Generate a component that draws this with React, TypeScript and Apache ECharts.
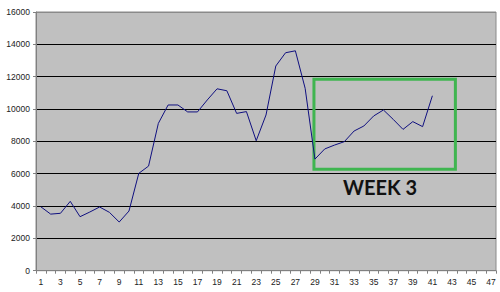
import React, { useEffect, useRef } from "react";
import * as echarts from "echarts";

const categories: string[] = Array.from({ length: 47 }, (_, i) => String(i + 1));
const values: number[] = [
  3950, 3500, 3550, 4290, 3340, 3630, 3940, 3610, 3010, 3690,
  6020, 6470, 9110, 10250, 10250, 9820, 9820, 10560, 11250, 11130,
  9730, 9840, 8040, 9630, 12660, 13480, 13600, 11280, 6900, 7530,
  7770, 7980, 8640, 8950, 9570, 9940, 9360, 8740, 9220, 8910,
  10820,
];
const yTicks = { min: 0, max: 16000, interval: 2000 };
const boxRange = { x0: 28.9, x1: 43.35, y0: 6270, y1: 11840 };
const boxLabel = "WEEK 3";

export default function App() {
  const ref = useRef<HTMLDivElement>(null);
  useEffect(() => {
    if (!ref.current) return;
    const chart = echarts.init(ref.current, null, { renderer: "svg" });
    const grid = { left: 36, top: 12, right: 4, bottom: 21.3 };
    chart.setOption({
      animation: false,
      backgroundColor: "#ffffff",
      grid: {
        ...grid,
        show: true,
        backgroundColor: "#c0c0c0",
        borderColor: "#8a8a8a",
        borderWidth: 1,
      },
      xAxis: [
        {
          type: "category",
          data: categories,
          boundaryGap: true,
          axisLine: { lineStyle: { color: "#808080", width: 1 } },
          axisTick: { show: true, interval: 0, length: 3, lineStyle: { color: "#808080" } },
          axisLabel: {
            interval: 1,
            margin: 7,
            fontSize: 8.5,
            color: "#222",
            fontFamily: "Liberation Sans, Arial, sans-serif",
          },
          splitLine: { show: false },
        },
        {
          type: "value",
          min: 0.5,
          max: 47.5,
          show: false,
          splitLine: { show: false },
        },
      ],
      yAxis: {
        type: "value",
        min: yTicks.min,
        max: yTicks.max,
        interval: yTicks.interval,
        axisLine: { show: true, lineStyle: { color: "#808080", width: 1 } },
        axisTick: { show: true, length: 3, lineStyle: { color: "#808080" } },
        axisLabel: {
          margin: 6,
          fontSize: 8.5,
          color: "#222",
          fontFamily: "Liberation Sans, Arial, sans-serif",
          formatter: (v: number) => String(v),
        },
        splitLine: {
          show: true,
          lineStyle: {
            color: ["#808080", "#000", "#000", "#000", "#000", "#000", "#000", "#000", "#8a8a8a"],
            width: 1,
          },
        },
      },
      series: [
        {
          type: "line",
          xAxisIndex: 1,
          data: values.map((v, i) => [Number(categories[i]), v]),
          symbol: "none",
          lineStyle: { color: "#101080", width: 1 },
          markArea: {
            silent: true,
            itemStyle: {
              color: "rgba(0,0,0,0)",
              borderColor: "#3fb550",
              borderWidth: 3,
            },
            data: [
              [
                { xAxis: boxRange.x0, yAxis: boxRange.y1 },
                { xAxis: boxRange.x1, yAxis: boxRange.y0 },
              ],
            ],
          },
        },
      ],
      graphic: [
        {
          type: "text",
          left: 343,
          top: 177,
          style: {
            text: boxLabel,
            font: "bold 20px Lato, 'Open Sans', sans-serif",
            fill: "#111",
          },
        },
      ],
    });
    return () => chart.dispose();
  }, []);
  return (
    <div
      ref={ref}
      style={{ position: "fixed", left: 0, top: 0, width: 500, height: 292 }}
    />
  );
}
